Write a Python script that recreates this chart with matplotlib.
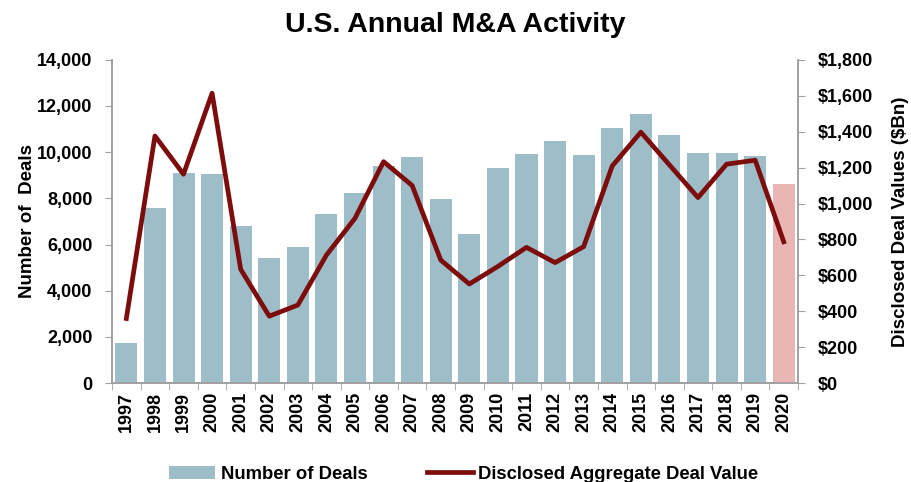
import numpy as np
import matplotlib
matplotlib.use("Agg")
import matplotlib.pyplot as plt
from matplotlib.ticker import FuncFormatter

plt.rcParams['font.family'] = ['Liberation Sans', 'DejaVu Sans']

years = [str(y) for y in range(1997, 2021)]
deals = [1760, 7570, 9100, 9070, 6800, 5400, 5910, 7330, 8250, 9390, 9780, 7990,
         6470, 9320, 9910, 10500, 9870, 11050, 11650, 10750, 9980, 9980, 9830, 8630]
value = [360, 1376, 1163, 1614, 634, 373, 435, 713, 918, 1233, 1100, 685,
         552, 650, 756, 671, 760, 1209, 1397, 1215, 1033, 1219, 1241, 787]

bar_col = "#9dbdc8"
last_col = "#e9b5b5"
line_col = "#7d0c0c"
spine_col = "#a0a0a0"

fig = plt.figure(figsize=(9.11, 4.82), dpi=100)
ax = fig.add_axes([0.123, 0.205, 0.753, 0.671])
x = np.arange(len(years))
cols = [bar_col] * (len(years) - 1) + [last_col]
ax.bar(x, deals, width=0.77, color=cols, label="Number of Deals", zorder=2)
ax.set_xlim(-0.5, len(years) - 0.5)
ax.set_ylim(0, 14000)
ax.set_yticks(np.arange(0, 14001, 2000))
ax.yaxis.set_major_formatter(FuncFormatter(lambda v, p: f"{int(v):,}"))
ax.set_xticks(x)
ax.set_xticklabels(years, rotation=90, fontsize=13, fontweight="bold")
ax.set_xticks(np.arange(-0.5, len(years)), minor=True)
ax.tick_params(axis="x", which="major", length=0, pad=6)
ax.tick_params(axis="x", which="minor", length=5, color=spine_col, direction="out")
ax.tick_params(axis="y", length=5, color=spine_col, labelsize=13, pad=9)
for t in ax.get_yticklabels():
    t.set_fontweight("bold")
ax.set_ylabel("Number of  Deals", fontsize=13.5, fontweight="bold", labelpad=1)

ax2 = ax.twinx()
ax2.plot(x, value, color=line_col, lw=3.4, label="Disclosed Aggregate Deal Value", zorder=3)
ax2.set_ylim(0, 1800)
ax2.set_yticks(np.arange(0, 1801, 200))
ax2.yaxis.set_major_formatter(FuncFormatter(lambda v, p: f"${int(v):,}"))
ax2.tick_params(axis="y", length=5, color=spine_col, labelsize=13, pad=9)
for t in ax2.get_yticklabels():
    t.set_fontweight("bold")
ax2.set_ylabel("Disclosed Deal Values ($Bn)", fontsize=13.5, fontweight="bold", labelpad=14)

for a in [ax, ax2]:
    a.spines["top"].set_visible(False)
    for s in ["left", "right", "bottom"]:
        a.spines[s].set_color(spine_col)
        a.spines[s].set_linewidth(1.2)

fig.text(0.5, 0.948, "U.S. Annual M&A Activity", fontsize=20.5, fontweight="bold",
         ha="center", va="center")

h1, l1 = ax.get_legend_handles_labels()
h2, l2 = ax2.get_legend_handles_labels()
leg = fig.legend(h1 + h2, l1 + l2, loc="lower center", ncol=2, frameon=False,
                 bbox_to_anchor=(0.509, -0.036), prop={"weight": "bold", "size": 13.3},
                 columnspacing=3.2, handlelength=2.5, handletextpad=0.3)

fig.savefig("out.png", dpi=100)
